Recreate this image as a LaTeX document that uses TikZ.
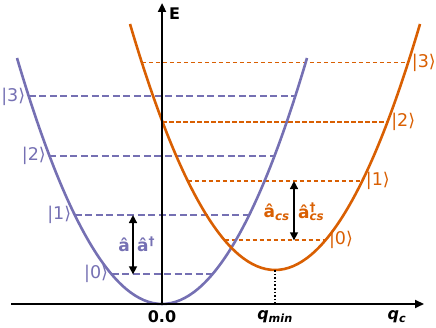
\documentclass[tikz,border=0pt]{standalone}
\usepackage{fontspec}
\setmainfont{DejaVu Sans}
\usetikzlibrary{arrows.meta}
\definecolor{pur}{HTML}{7570B3}
\definecolor{org}{HTML}{D95F02}
\begin{document}
\begin{tikzpicture}[x=1pt,y=-1pt,
  curvep/.style={pur,line width=2.6pt},
  curveo/.style={org,line width=2.6pt},
  levp/.style={pur,line width=2pt,dash pattern=on 7pt off 3.5pt},
  levo/.style={org,line width=1.8pt,dash pattern=on 4.5pt off 2.5pt},
  ketp/.style={pur,font=\fontsize{17.5}{17.5}\selectfont,inner sep=0.5pt},
  keto/.style={org,font=\fontsize{17.5}{17.5}\selectfont,inner sep=0.5pt},
  axis/.style={line width=2.4pt,-{Triangle[length=9pt,width=8pt]}},
  axlab/.style={font=\fontsize{16}{16}\selectfont\bfseries,inner sep=0pt},
  opp/.style={pur,font=\fontsize{17}{17}\selectfont\bfseries,inner sep=0pt},
  opo/.style={org,font=\fontsize{17}{17}\selectfont\bfseries,inner sep=0pt},
  trans/.style={line width=1.5pt,{Triangle[length=8pt,width=8pt]}-{Triangle[length=8pt,width=8pt]}}
]
\useasboundingbox (0,0) rectangle (436,328);
\def\ik{9.245}
\def\hw{29.65}
% purple levels (vertex 162,304)
\foreach \n in {0,1,2,3}{
  \pgfmathsetmacro\h{\hw*(2*\n+1)}
  \pgfmathsetmacro\w{sqrt(\h)*\ik}
  \coordinate (pl\n) at ({162-\w},{304-\h});
  \coordinate (pr\n) at ({162+\w},{304-\h});
  \draw[levp] (pl\n) -- (pr\n);
  \node[ketp,anchor=east] (pk\n) at ([xshift=-3pt]pl\n) {|\n⟩};
}
% orange levels (vertex 275,270)
\foreach \n in {0,1,2,3}{
  \pgfmathsetmacro\h{\hw*(2*\n+1)}
  \pgfmathsetmacro\w{sqrt(\h)*\ik}
  \coordinate (ol\n) at ({275-\w},{270-\h});
  \coordinate (or\n) at ({275+\w},{270-\h});
  \draw[levo] (ol\n) -- (or\n);
  \node[keto,anchor=west] (ok\n) at ([xshift=3pt]or\n) {|\n⟩};
}
% curves (exact parabolas as cubic Bezier)
\coordinate (pA) at (17,58);
\coordinate (pB) at (307,58);
\coordinate (oA) at (130,24);
\coordinate (oB) at (420,24);
\draw[curvep] (pA) .. controls (113.67,386) and (210.33,386) .. (pB);
\draw[curveo] (oA) .. controls (226.67,352) and (323.33,352) .. (oB);
% axes
\coordinate (o) at (162,304);
\coordinate (xs) at (11,304);
\coordinate (xe) at (424,304);
\coordinate (ye) at (162,3);
\coordinate (vm) at (275,270);
\coordinate (vb) at (275,304);
\draw[line width=1.6pt,dotted] (vm) -- (vb);
\draw[axis] (xs) -- (xe);
\draw[axis] (o) -- (ye);
\node[axlab,anchor=west] (E) at (169,14) {E};
\node[axlab] (zero) at (162,317) {0.0};
\node[axlab] (qmin) at (275,317) {\itshape q\textsubscript{min}};
\node[axlab] (qc) at (397,317) {\itshape q\textsubscript{c}};
% transitions
\coordinate (pa1) at (133,{304-3*\hw});
\coordinate (pa0) at (133,{304-\hw});
\draw[trans] (pa0) -- (pa1);
\node[opp,anchor=east] (a) at (130,245) {â};
\node[opp,anchor=west] (ad) at (137,244) {â\textsuperscript{†}};
\coordinate (oa1) at (294,{270-3*\hw});
\coordinate (oa0) at (294,{270-\hw});
\draw[trans] (oa0) -- (oa1);
\node[opo,anchor=east] (acs) at (290,212) {â\textsubscript{\itshape cs}};
\node[opo,anchor=west] (acsd) at (298,212) {â\rlap{\textsuperscript{†}}\textsubscript{\itshape cs}};
\end{tikzpicture}
\end{document}
